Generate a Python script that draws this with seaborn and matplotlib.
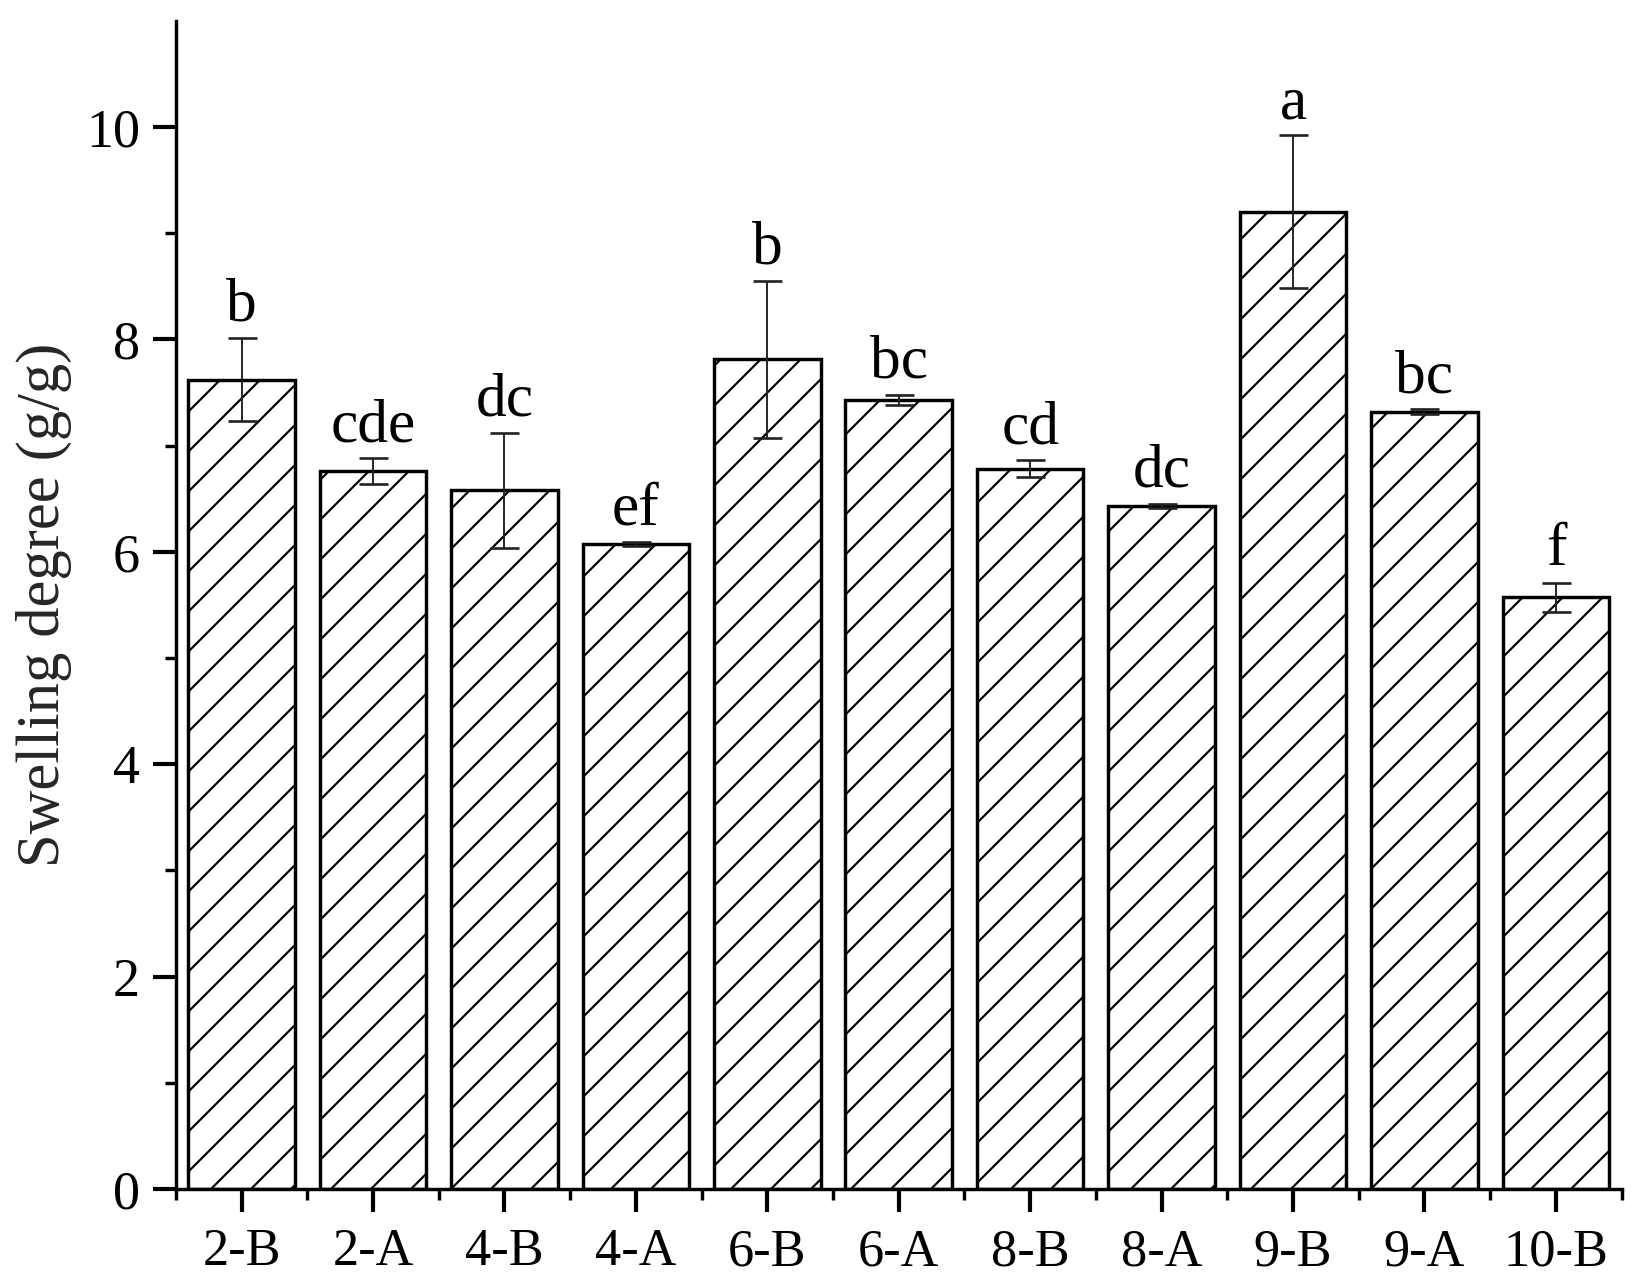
import numpy as np
import pandas as pd
import matplotlib
matplotlib.use("Agg")
import matplotlib.pyplot as plt
import seaborn as sns
from matplotlib.ticker import FixedLocator

categories = ["2-B", "2-A", "4-B", "4-A", "6-B", "6-A", "8-B", "8-A", "9-B", "9-A", "10-B"]
values = [7.62, 6.76, 6.58, 6.07, 7.81, 7.43, 6.78, 6.43, 9.20, 7.32, 5.57]
errors = [0.39, 0.12, 0.54, 0.02, 0.74, 0.05, 0.08, 0.02, 0.72, 0.02, 0.14]
letters = ["b", "cde", "dc", "ef", "b", "bc", "cd", "dc", "a", "bc", "f"]

DPI = 120

sns.set_theme(style="ticks")
plt.rcParams["font.family"] = ["Liberation Serif", "DejaVu Serif"]
plt.rcParams["hatch.linewidth"] = 1.3
plt.rcParams["hatch.color"] = "black"

df = pd.DataFrame({"cat": categories, "val": values})

fig = plt.figure(figsize=(1643 / DPI, 1287 / DPI), dpi=DPI)
ax = fig.add_axes([0.107, 0.076, 0.880, 0.908])

sns.barplot(data=df, x="cat", y="val", ax=ax, color="white", edgecolor="black",
            linewidth=2.05, width=0.81, errorbar=None, saturation=1)
for p in ax.patches:
    p.set_hatch("/")

xpos = np.arange(len(categories))
ax.errorbar(xpos, values, yerr=errors, fmt="none", ecolor="#222222",
            elinewidth=1.15, capsize=8.7, capthick=1.6, zorder=5)

for x, v, e, t in zip(xpos, values, errors, letters):
    ax.text(x, v + e + 0.04, t, ha="center", va="bottom", fontsize=36.8, color="black")

ax.set_ylim(0, 11)
ax.set_xlim(-0.5, 10.5)
ax.yaxis.set_major_locator(FixedLocator([0, 2, 4, 6, 8, 10]))
ax.yaxis.set_minor_locator(FixedLocator([1, 3, 5, 7, 9]))
ax.xaxis.set_minor_locator(FixedLocator(np.arange(-0.5, 11, 1.0)))

sns.despine(ax=ax)
for s in ["left", "bottom"]:
    ax.spines[s].set_linewidth(2.05)
    ax.spines[s].set_color("black")

ax.tick_params(axis="both", which="major", length=13.8, width=2.5, direction="out",
               colors="black", pad=7.6)
ax.tick_params(axis="both", which="minor", length=6.8, width=2.05, direction="out", colors="black")
ax.tick_params(axis="y", which="major", labelsize=32.5)
ax.tick_params(axis="x", which="major", labelsize=31.4, pad=9.75)

ax.set_xlabel("")
ax.set_ylabel("Swelling degree (g/g)", fontsize=36.3, labelpad=8.7)

fig.savefig("out.png", dpi=DPI, facecolor="white")
